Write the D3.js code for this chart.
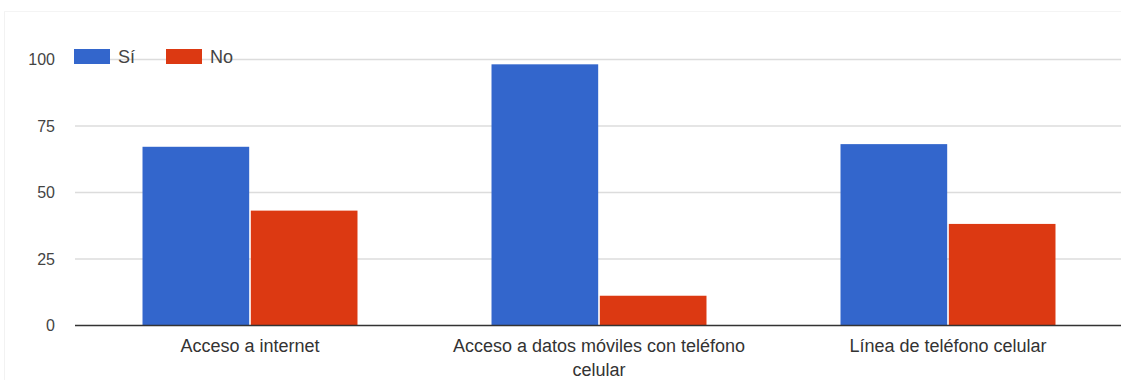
<!DOCTYPE html>
<html>
<head>
<meta charset="utf-8">
<script src="https://cdn.jsdelivr.net/npm/d3@7"></script>
<style>
  html, body { margin: 0; padding: 0; background: #fff; }
  svg { display: block; font-family: "Liberation Sans", Arial, sans-serif; }
</style>
</head>
<body>
<svg id="chart" width="1121" height="380"></svg>
<script>
// Survey answers per service
const categories = [
  ["Acceso a internet"],
  ["Acceso a datos móviles con teléfono", "celular"],
  ["Línea de teléfono celular"]
];
const seriesNames = ["Sí", "No"];
const siValues = [67, 98, 68];
const noValues = [43, 11, 38];
const yTicks = [0, 25, 50, 75, 100];
const colors = ["#3366cc", "#dc3912"];

const svg = d3.select("#chart");
const W = 1121, H = 380;
const y0 = 325;

// faint outer frame
svg.append("line").attr("x1", 4.5).attr("x2", 4.5).attr("y1", 11).attr("y2", H)
  .attr("stroke", "#f2f2f2");
svg.append("line").attr("x1", 4).attr("x2", W).attr("y1", 11.5).attr("y2", 11.5)
  .attr("stroke", "#f4f4f4");

const y = d3.scaleLinear().domain([0, 100]).range([y0, 59]);
const x0 = d3.scaleBand()
  .domain(d3.range(categories.length))
  .range([75.5, 1122.5])
  .paddingInner(0.384)
  .paddingOuter(0.192);
const x1 = d3.scaleBand()
  .domain(seriesNames)
  .range([0, x0.bandwidth()])
  .paddingInner(0.015);

// horizontal gridlines
const grid = svg.append("g")
  .attr("transform", "translate(75,0)")
  .call(d3.axisLeft(y).tickValues(yTicks.filter(t => t > 0)).tickSize(-(W - 75)).tickFormat(""));
grid.select(".domain").remove();
grid.selectAll(".tick line").attr("stroke", "#dcdcdc").attr("stroke-width", 1.3);

// y tick labels
const yAxis = svg.append("g")
  .attr("transform", "translate(55,0)")
  .call(d3.axisLeft(y).tickValues(yTicks).tickSize(0).tickPadding(0));
yAxis.select(".domain").remove();
yAxis.selectAll("text")
  .attr("fill", "#444")
  .attr("dy", "0.35em")
  .style("font-size", "16px")
  .style("font-family", "'Liberation Sans', Arial, sans-serif");

// bars
const rows = categories.map((c, i) => ({ i, vals: [siValues[i], noValues[i]] }));
const groups = svg.append("g").selectAll("g").data(rows).join("g")
  .attr("transform", d => `translate(${x0(d.i)},0)`);
groups.selectAll("rect")
  .data(d => d.vals.map((v, k) => ({ key: seriesNames[k], v, k })))
  .join("rect")
  .attr("x", d => x1(d.key))
  .attr("width", x1.bandwidth())
  .attr("y", d => y(d.v))
  .attr("height", d => y0 - y(d.v))
  .attr("fill", d => colors[d.k]);

// baseline
svg.append("line").attr("x1", 75).attr("x2", W).attr("y1", y0 + 0.5).attr("y2", y0 + 0.5)
  .attr("stroke", "#333").attr("stroke-width", 1.3);

// category labels
const xl = svg.append("g");
categories.forEach((lines, i) => {
  const cx = x0(i) + x0.bandwidth() / 2;
  const t = xl.append("text")
    .attr("text-anchor", "middle")
    .attr("fill", "#333")
    .style("font-size", "18px");
  lines.forEach((ln, j) => {
    t.append("tspan").attr("x", cx).attr("y", 352 + j * 24).text(ln);
  });
});

// legend
const legend = svg.append("g").attr("transform", "translate(74,49)");
const items = [{ x: 0, label: seriesNames[0] }, { x: 92, label: seriesNames[1] }];
items.forEach((it, k) => {
  legend.append("rect").attr("x", it.x).attr("y", 0).attr("width", 36).attr("height", 15)
    .attr("fill", colors[k]);
  legend.append("text").attr("x", it.x + 44).attr("y", 14)
    .attr("fill", "#444").style("font-size", "18px").text(it.label);
});
</script>
</body>
</html>
